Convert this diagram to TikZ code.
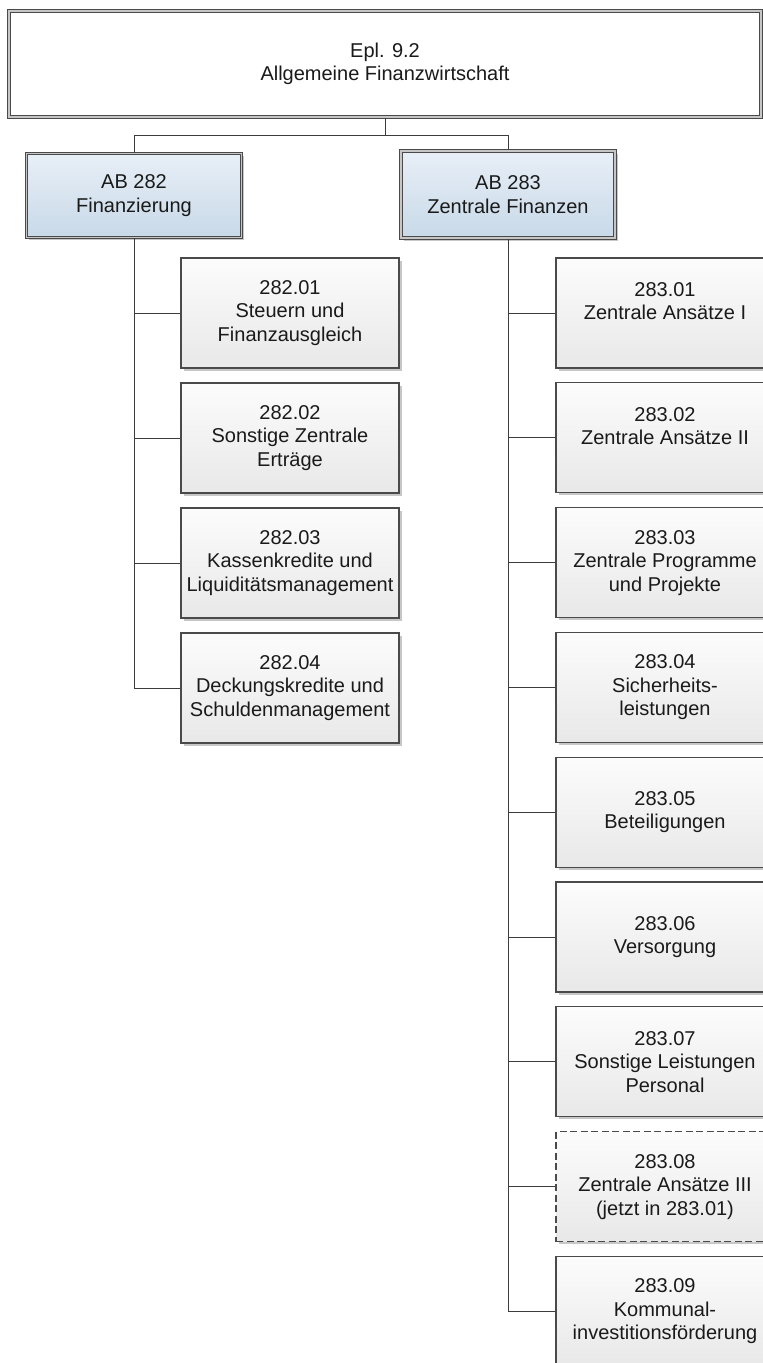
\documentclass[tikz,border=0pt]{standalone}
\usepackage{fontspec}
\setmainfont{Liberation Sans}
\usetikzlibrary{shadows}
\definecolor{bordc}{HTML}{4A4A4A}
\definecolor{linec}{HTML}{3C3C3C}
\definecolor{leaftop}{HTML}{FCFCFC}
\definecolor{leafbot}{HTML}{E8E8E8}
\definecolor{abtop}{HTML}{E8EFF7}
\definecolor{abbot}{HTML}{C8D9E8}
\definecolor{txtc}{HTML}{1A1A1A}
\begin{document}
\begin{tikzpicture}[x=1pt,y=-1pt,
  txt/.style={font=\fontsize{20}{23.5}\selectfont, align=center, text=txtc},
  shad/.style={drop shadow={shadow xshift=2.5pt, shadow yshift=-2.5pt, fill=black, opacity=0.22}},
  leaf/.style={txt, rectangle, draw=bordc, line width=1.2pt, minimum width=218pt, minimum height=110pt,
    top color=leaftop, bottom color=leafbot, shad},
  leafdash/.style={leaf, dash pattern=on 7pt off 3.5pt},
  abbox/.style={txt, rectangle, draw=bordc, line width=1.1pt, double=gray!45, double distance=1.4pt,
    top color=abtop, bottom color=abbot, shad},
  topbox/.style={txt, rectangle, draw=bordc, line width=1.1pt, double=gray!45, double distance=1.4pt, fill=white},
  conn/.style={draw=linec, line width=1pt}
]
\useasboundingbox (0,0) rectangle (763,1363);
\fill[white] (0,0) rectangle (763,1363);

\node[topbox, minimum width=752pt, minimum height=106pt] (top) at (385,64) {Epl. 9.2\\Allgemeine Finanzwirtschaft};

\node[abbox, minimum width=215pt, minimum height=84pt] (ab282) at (134,195.5) {AB 282\\Finanzierung};
\node[abbox, minimum width=214pt, minimum height=87pt] (ab283) at (508,194.5) {AB 283\\Zentrale Finanzen};

% left column
\node[leaf] (l1) at (290,313) {282.01\\Steuern und\\Finanzausgleich};
\node[leaf] (l2) at (290,438) {282.02\\Sonstige Zentrale\\Erträge};
\node[leaf] (l3) at (290,563) {282.03\\Kassenkredite und\\Liquiditätsmanagement};
\node[leaf] (l4) at (290,688) {282.04\\Deckungskredite und\\Schuldenmanagement};

% right column
\node[leaf] (r1) at (665,313) {283.01\\Zentrale Ansätze I\\\mbox{}};
\node[leaf] (r2) at (665,437.8) {283.02\\Zentrale Ansätze II\\\mbox{}};
\node[leaf] (r3) at (665,562.6) {283.03\\Zentrale Programme\\und Projekte};
\node[leaf] (r4) at (665,687.4) {283.04\\Sicherheits-\\leistungen};
\node[leaf] (r5) at (665,812.2) {283.05\\Beteiligungen};
\node[leaf] (r6) at (665,937) {283.06\\Versorgung};
\node[leaf] (r7) at (665,1061.8) {283.07\\Sonstige Leistungen\\Personal};
\node[leafdash] (r8) at (665,1186.6) {283.08\\Zentrale Ansätze III\\(jetzt in 283.01)};
\node[leaf] (r9) at (665,1311.4) {283.09\\Kommunal-\\investitionsförderung};

% connectors top
\coordinate (j) at (385,135);
\draw[conn] (top.south) -- (j);
\draw[conn] (j) -| (ab282.north);
\draw[conn] (j) -| (ab283.north);

% left trunk
\draw[conn] (ab282.south) |- (l4.west);
\foreach \n in {l1,l2,l3} \draw[conn] (ab282.south |- \n.west) -- (\n.west);

% right trunk
\draw[conn] (ab283.south) |- (r9.west);
\foreach \n in {r1,r2,r3,r4,r5,r6,r7,r8} \draw[conn] (ab283.south |- \n.west) -- (\n.west);
\end{tikzpicture}
\end{document}
